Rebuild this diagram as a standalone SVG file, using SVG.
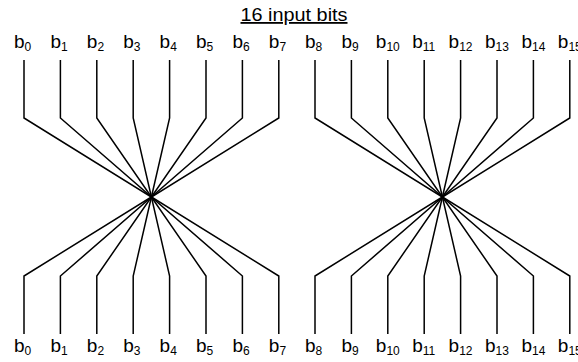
<svg xmlns="http://www.w3.org/2000/svg" width="578" height="362" viewBox="0 0 578 362">
  <style>
    text { font-family: "Liberation Sans", Arial, sans-serif; fill: #000; }
    .lbl { font-size: 19px; }
    .sub { font-size: 12px; }
    .title { font-size: 18px; text-decoration: underline; }
    .wire { fill: none; stroke: #000; stroke-width: 1.5; stroke-linejoin: miter; }
  </style>
  <rect width="578" height="362" fill="#fff"/>

  <g id="title">
    <text class="title" x="294" y="21" text-anchor="middle" textLength="107" lengthAdjust="spacingAndGlyphs">16 input bits</text>
  </g>

  <!-- wires: each input bit runs down, converges on a crossing point, then fans out to its output position -->
  <g id="connectors">
    <!-- left group b0..b7, crossing at (151.4,197) -->
    <path class="wire" d="M24 60 V118 L151.4 197 L24 276 V334"/>
    <path class="wire" d="M60.4 60 V118 L151.4 197 L60.4 276 V334"/>
    <path class="wire" d="M96.8 60 V118 L151.4 197 L96.8 276 V334"/>
    <path class="wire" d="M133.2 60 V118 L151.4 197 L133.2 276 V334"/>
    <path class="wire" d="M169.6 60 V118 L151.4 197 L169.6 276 V334"/>
    <path class="wire" d="M206 60 V118 L151.4 197 L206 276 V334"/>
    <path class="wire" d="M242.4 60 V118 L151.4 197 L242.4 276 V334"/>
    <path class="wire" d="M278.8 60 V118 L151.4 197 L278.8 276 V334"/>
    <!-- right group b8..b15, crossing at (442.4,197) -->
    <path class="wire" d="M315 60 V118 L442.4 197 L315 276 V334"/>
    <path class="wire" d="M351.4 60 V118 L442.4 197 L351.4 276 V334"/>
    <path class="wire" d="M387.8 60 V118 L442.4 197 L387.8 276 V334"/>
    <path class="wire" d="M424.2 60 V118 L442.4 197 L424.2 276 V334"/>
    <path class="wire" d="M460.6 60 V118 L442.4 197 L460.6 276 V334"/>
    <path class="wire" d="M497 60 V118 L442.4 197 L497 276 V334"/>
    <path class="wire" d="M533.4 60 V118 L442.4 197 L533.4 276 V334"/>
    <path class="wire" d="M569.8 60 V118 L442.4 197 L569.8 276 V334"/>
  </g>

  <!-- top row labels -->
  <g id="inputs">
    <g id="in-b0"><text class="lbl" x="14" y="48">b<tspan class="sub" dy="3">0</tspan></text></g>
    <g id="in-b1"><text class="lbl" x="50.4" y="48">b<tspan class="sub" dy="3">1</tspan></text></g>
    <g id="in-b2"><text class="lbl" x="86.8" y="48">b<tspan class="sub" dy="3">2</tspan></text></g>
    <g id="in-b3"><text class="lbl" x="123.2" y="48">b<tspan class="sub" dy="3">3</tspan></text></g>
    <g id="in-b4"><text class="lbl" x="159.6" y="48">b<tspan class="sub" dy="3">4</tspan></text></g>
    <g id="in-b5"><text class="lbl" x="196" y="48">b<tspan class="sub" dy="3">5</tspan></text></g>
    <g id="in-b6"><text class="lbl" x="232.4" y="48">b<tspan class="sub" dy="3">6</tspan></text></g>
    <g id="in-b7"><text class="lbl" x="268.8" y="48">b<tspan class="sub" dy="3">7</tspan></text></g>
    <g id="in-b8"><text class="lbl" x="305" y="48">b<tspan class="sub" dy="3">8</tspan></text></g>
    <g id="in-b9"><text class="lbl" x="341.4" y="48">b<tspan class="sub" dy="3">9</tspan></text></g>
    <g id="in-b10"><text class="lbl" x="375.8" y="48">b<tspan class="sub" dy="3">10</tspan></text></g>
    <g id="in-b11"><text class="lbl" x="412.2" y="48">b<tspan class="sub" dy="3">11</tspan></text></g>
    <g id="in-b12"><text class="lbl" x="448.6" y="48">b<tspan class="sub" dy="3">12</tspan></text></g>
    <g id="in-b13"><text class="lbl" x="485" y="48">b<tspan class="sub" dy="3">13</tspan></text></g>
    <g id="in-b14"><text class="lbl" x="521.4" y="48">b<tspan class="sub" dy="3">14</tspan></text></g>
    <g id="in-b15"><text class="lbl" x="557.8" y="48">b<tspan class="sub" dy="3">15</tspan></text></g>
  </g>

  <!-- bottom row labels -->
  <g id="outputs">
    <g id="out-b0"><text class="lbl" x="14" y="352">b<tspan class="sub" dy="3">0</tspan></text></g>
    <g id="out-b1"><text class="lbl" x="50.4" y="352">b<tspan class="sub" dy="3">1</tspan></text></g>
    <g id="out-b2"><text class="lbl" x="86.8" y="352">b<tspan class="sub" dy="3">2</tspan></text></g>
    <g id="out-b3"><text class="lbl" x="123.2" y="352">b<tspan class="sub" dy="3">3</tspan></text></g>
    <g id="out-b4"><text class="lbl" x="159.6" y="352">b<tspan class="sub" dy="3">4</tspan></text></g>
    <g id="out-b5"><text class="lbl" x="196" y="352">b<tspan class="sub" dy="3">5</tspan></text></g>
    <g id="out-b6"><text class="lbl" x="232.4" y="352">b<tspan class="sub" dy="3">6</tspan></text></g>
    <g id="out-b7"><text class="lbl" x="268.8" y="352">b<tspan class="sub" dy="3">7</tspan></text></g>
    <g id="out-b8"><text class="lbl" x="305" y="352">b<tspan class="sub" dy="3">8</tspan></text></g>
    <g id="out-b9"><text class="lbl" x="341.4" y="352">b<tspan class="sub" dy="3">9</tspan></text></g>
    <g id="out-b10"><text class="lbl" x="375.8" y="352">b<tspan class="sub" dy="3">10</tspan></text></g>
    <g id="out-b11"><text class="lbl" x="412.2" y="352">b<tspan class="sub" dy="3">11</tspan></text></g>
    <g id="out-b12"><text class="lbl" x="448.6" y="352">b<tspan class="sub" dy="3">12</tspan></text></g>
    <g id="out-b13"><text class="lbl" x="485" y="352">b<tspan class="sub" dy="3">13</tspan></text></g>
    <g id="out-b14"><text class="lbl" x="521.4" y="352">b<tspan class="sub" dy="3">14</tspan></text></g>
    <g id="out-b15"><text class="lbl" x="557.8" y="352">b<tspan class="sub" dy="3">15</tspan></text></g>
  </g>
</svg>
